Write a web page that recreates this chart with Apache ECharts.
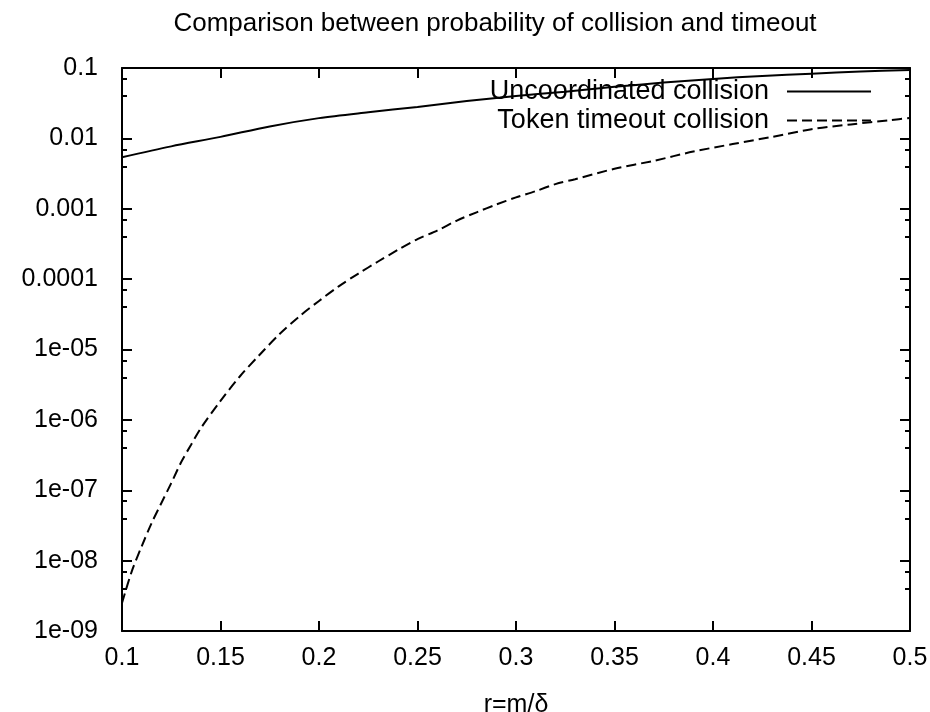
<!DOCTYPE html>
<html>
<head>
<meta charset="utf-8">
<script src="https://cdn.jsdelivr.net/npm/echarts@6/dist/echarts.min.js"></script>
<style>
  html, body { margin: 0; padding: 0; background: #fff; }
  #chart { width: 930px; height: 712px; }
</style>
</head>
<body>
<div id="chart"></div>
<script>
// values (log scale on y)
const uncoordR = [0.1, 0.125, 0.15, 0.175, 0.2, 0.225, 0.25, 0.275, 0.3, 0.325, 0.35, 0.375, 0.4, 0.425, 0.45, 0.475, 0.5]
const uncoordP = [0.0054, 0.0077, 0.0105, 0.0148, 0.0194, 0.0235, 0.028, 0.034, 0.040, 0.046, 0.054, 0.062, 0.070, 0.077, 0.083, 0.089, 0.094]

const tokenR = [0.1, 0.105, 0.11, 0.115, 0.12, 0.125, 0.13, 0.135, 0.14, 0.15, 0.16, 0.17, 0.18, 0.19, 0.2,
  0.21, 0.22, 0.23, 0.24, 0.25, 0.26, 0.27, 0.28, 0.29, 0.3, 0.31, 0.32, 0.33, 0.35, 0.37, 0.39, 0.41, 0.43, 0.45, 0.47, 0.49, 0.5]
const tokenP = [2.5e-9, 7.1e-9, 1.6e-8, 3.4e-8, 6.6e-8, 1.26e-7, 2.5e-7, 4.4e-7, 7.6e-7, 1.86e-6, 4.2e-6, 8.5e-6, 1.66e-5, 2.95e-5, 4.9e-5,
  7.9e-5, 1.2e-4, 1.78e-4, 2.6e-4, 3.7e-4, 4.9e-4, 6.8e-4, 8.9e-4, 1.15e-3, 1.45e-3, 1.78e-3, 2.24e-3, 2.63e-3, 3.7e-3, 4.8e-3, 6.5e-3, 8.3e-3, 1.05e-2, 1.35e-2, 1.58e-2, 1.82e-2, 1.95e-2]

const xTickLabels = ['0.1', '0.15', '0.2', '0.25', '0.3', '0.35', '0.4', '0.45', '0.5']
const yTickLabels = ['0.1', '0.01', '0.001', '0.0001', '1e-05', '1e-06', '1e-07', '1e-08', '1e-09']

const FONT = 'Liberation Sans'
const ink = '#000'

const tick = { show: true, inside: true, length: 10, lineStyle: { color: ink, width: 2 } }
const axisLine = { show: true, onZero: false, lineStyle: { color: ink, width: 2 } }

const xLabel = v => xTickLabels[Math.round((v - 0.1) / 0.05)] ?? ''
const yLabel = v => yTickLabels[Math.round(-Math.log10(v)) - 1] ?? ''

const xBase = {
  type: 'value', min: 0.1, max: 0.5, interval: 0.05,
  axisLine, axisTick: tick, splitLine: { show: false }
}
const yBase = {
  type: 'log', logBase: 10, min: 1e-9, max: 0.1, splitNumber: 8,
  axisLine, axisTick: tick,
  minorTick: { show: true, splitNumber: 3, length: 5, lineStyle: { color: ink, width: 2 } },
  splitLine: { show: false }, minorSplitLine: { show: false }
}

const chart = echarts.init(document.getElementById('chart'), null, { renderer: 'canvas' })
chart.setOption({
  backgroundColor: '#fff',
  animation: false,
  textStyle: { fontFamily: FONT, color: ink },
  title: {
    text: 'Comparison between probability of collision and timeout',
    left: 490, top: 6, textAlign: 'center',
    textStyle: { fontFamily: FONT, fontWeight: 'normal', fontSize: 26, color: ink }
  },
  grid: { left: 122, right: 20, top: 68, bottom: 81, outerBoundsMode: 'none' },
  legend: {
    orient: 'vertical', align: 'right', right: 53, top: 73,
    itemWidth: 84, itemHeight: 14, itemGap: 2,
    data: ['Uncoordinated collision', 'Token timeout collision'],
    itemStyle: { opacity: 0 },
    textStyle: { fontFamily: FONT, fontSize: 27, color: ink, lineHeight: 27, padding: [0, 13, 0, 0] }
  },
  xAxis: [
    {
      ...xBase, position: 'bottom',
      name: 'r=m/δ', nameLocation: 'middle', nameGap: 62,
      nameTextStyle: { fontFamily: FONT, fontSize: 25, color: ink },
      axisLabel: { color: ink, fontFamily: FONT, fontSize: 25, margin: 15, formatter: xLabel }
    },
    { ...xBase, position: 'top', axisLabel: { show: false } }
  ],
  yAxis: [
    {
      ...yBase, position: 'left',
      axisLabel: { color: ink, fontFamily: FONT, fontSize: 25, margin: 24, formatter: yLabel }
    },
    { ...yBase, position: 'right', axisLabel: { show: false } }
  ],
  series: [
    {
      name: 'Uncoordinated collision', type: 'line', smooth: 0.3,
      symbol: 'none', xAxisIndex: 0, yAxisIndex: 0,
      data: uncoordR.map((r, i) => [r, uncoordP[i]]),
      lineStyle: { color: ink, width: 2 }, itemStyle: { color: ink }
    },
    {
      name: 'Token timeout collision', type: 'line', smooth: 0.3,
      symbol: 'none', xAxisIndex: 0, yAxisIndex: 0,
      data: tokenR.map((r, i) => [r, tokenP[i]]),
      lineStyle: { color: ink, width: 2, type: [10, 5] }, itemStyle: { color: ink }
    }
  ]
})
</script>
</body>
</html>
